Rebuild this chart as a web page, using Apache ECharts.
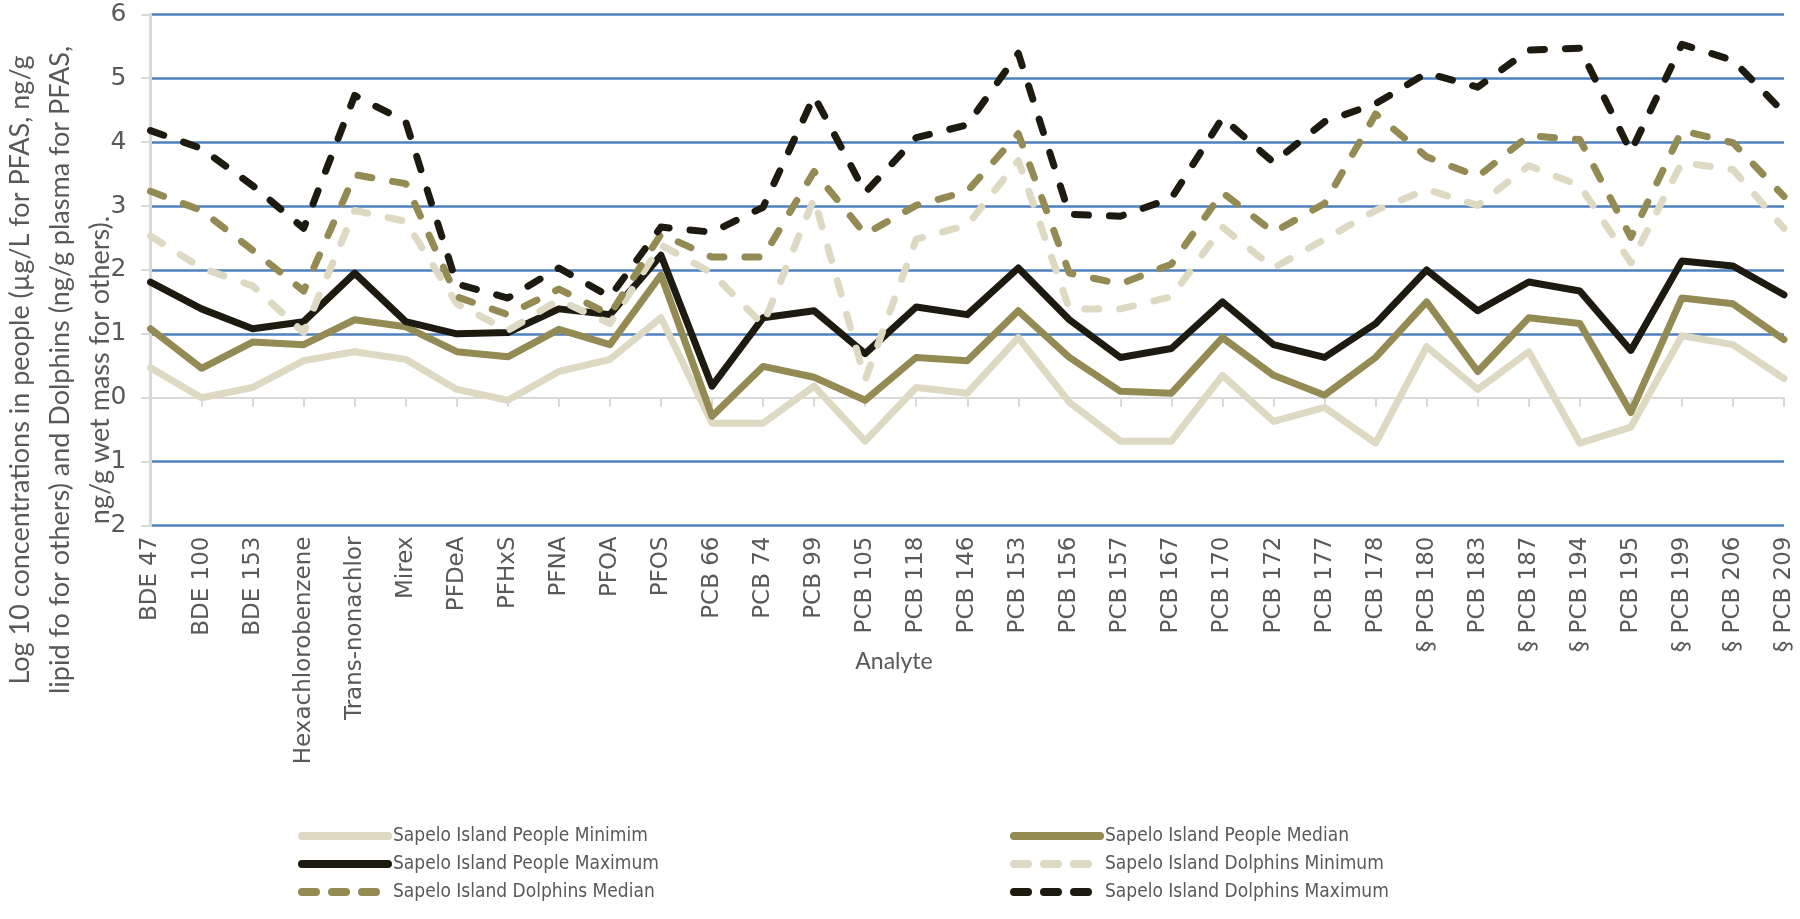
<!DOCTYPE html>
<html><head><meta charset="utf-8">
<script src="https://cdn.jsdelivr.net/npm/echarts@6/dist/echarts.min.js"></script>
<style>html,body{margin:0;padding:0;background:#fff}#c{width:1800px;height:919px}</style>
</head><body><div id="c"></div>
<script>
const categories = ['BDE 47','BDE 100','BDE 153','Hexachlorobenzene','Trans-nonachlor','Mirex','PFDeA','PFHxS','PFNA','PFOA','PFOS','PCB 66','PCB 74','PCB 99','PCB 105','PCB 118','PCB 146','PCB 153','PCB 156','PCB 157','PCB 167','PCB 170','PCB 172','PCB 177','PCB 178','§ PCB 180','PCB 183','§ PCB 187','§ PCB 194','PCB 195','§ PCB 199','§ PCB 206','§ PCB 209'];
const peopleMin = [0.47,0.00,0.16,0.58,0.72,0.60,0.13,-0.04,0.41,0.60,1.25,-0.40,-0.40,0.18,-0.68,0.16,0.07,0.94,-0.07,-0.68,-0.68,0.35,-0.37,-0.15,-0.71,0.80,0.13,0.72,-0.71,-0.46,0.97,0.83,0.30];
const peopleMedian = [1.08,0.46,0.87,0.83,1.22,1.11,0.72,0.64,1.07,0.83,1.92,-0.29,0.49,0.32,-0.04,0.63,0.58,1.36,0.63,0.10,0.07,0.94,0.35,0.04,0.63,1.50,0.41,1.25,1.16,-0.23,1.56,1.47,0.91];
const peopleMax = [1.81,1.39,1.08,1.19,1.95,1.19,1.00,1.02,1.39,1.30,2.23,0.18,1.25,1.36,0.69,1.42,1.30,2.03,1.22,0.63,0.77,1.50,0.83,0.63,1.16,2.00,1.36,1.81,1.67,0.74,2.14,2.06,1.61];
const dolphinMin = [2.53,2.03,1.75,1.02,2.93,2.76,1.47,1.05,1.53,1.16,2.39,1.95,1.14,3.12,0.28,2.48,2.70,3.71,1.39,1.39,1.58,2.67,2.03,2.48,2.93,3.26,3.01,3.63,3.32,2.11,3.68,3.57,2.65];
const dolphinMedian = [3.23,2.93,2.31,1.67,3.49,3.35,1.58,1.30,1.70,1.30,2.56,2.20,2.20,3.54,2.56,3.01,3.23,4.13,1.95,1.78,2.09,3.21,2.59,3.04,4.44,3.77,3.46,4.10,4.04,2.51,4.18,3.99,3.15];
const dolphinMax = [4.18,3.90,3.32,2.65,4.73,4.32,1.78,1.56,2.03,1.58,2.67,2.59,2.98,4.72,3.21,4.07,4.27,5.39,2.87,2.84,3.12,4.38,3.68,4.32,4.60,5.08,4.86,5.44,5.47,3.85,5.53,5.28,4.46];
const yTickValues = [-2,-1,0,1,2,3,4,5,6];
const yTickLabels = ['2','1','0','1','2','3','4','5','6'];
const seriesNames = ['Sapelo Island People Minimim','Sapelo Island People Median','Sapelo Island People Maximum','Sapelo Island Dolphins Minimum','Sapelo Island Dolphins Median','Sapelo Island Dolphins Maximum'];
const yTitle = 'Log 10 concentrations in people (µg/L for PFAS, ng/g\nlipid fo for others) and Dolphins (ng/g plasma for PFAS,\nng/g wet mass for others).';
const xTitle = 'Analyte';

const C_MIN = '#DDD9C3', C_MED = '#948A54', C_MAX = '#1D1B10';
const DASH = [14, 21];
const seriesData = [peopleMin, peopleMedian, peopleMax, dolphinMin, dolphinMedian, dolphinMax];
const seriesColors = [C_MIN, C_MED, C_MAX, C_MIN, C_MED, C_MAX];
const seriesDashed = [false, false, false, true, true, true];

const series = seriesData.map((d, i) => ({
  name: seriesNames[i], type: 'line', data: d, symbol: 'none', xAxisIndex: 0, yAxisIndex: 0,
  color: seriesColors[i],
  lineStyle: { color: seriesColors[i], width: 7, type: seriesDashed[i] ? DASH : 'solid', cap: 'round', join: 'round' },
  emphasis: { disabled: true }
}));

const legendItem = (i) => ({
  name: seriesNames[i],
  itemStyle: { opacity: 0 },
  lineStyle: { width: 8, opacity: 1, type: seriesDashed[i] ? [14, 16] : 'solid', cap: 'round', color: seriesColors[i] }
});

const gridColors = yTickValues.map(v => v === 0 ? 'rgba(0,0,0,0)' : '#4F81BD');
const legendText = { fontSize: 19, color: '#595959', fontFamily: '"Liberation Sans Narrow", "DejaVu Sans Condensed", Lato', lineHeight: 20 };

const chart = echarts.init(document.getElementById('c'));
chart.setOption({
  animation: false,
  backgroundColor: '#fff',
  grid: { left: 150.5, right: 16, top: 14.3, bottom: 393.5, containLabel: false },
  xAxis: [{
    type: 'category', data: categories, boundaryGap: false, position: 'bottom',
    axisLine: { show: false, onZero: false }, axisTick: { show: false },
    axisLabel: { interval: 0, rotate: 90, margin: 11, fontSize: 23, color: '#595959', fontFamily: 'DejaVu Sans' },
    splitLine: { show: false }
  }, {
    type: 'category', data: categories, boundaryGap: false, position: 'top',
    axisLine: { show: true, onZero: true, lineStyle: { color: '#D9D9D9', width: 2 } },
    axisTick: { show: true, inside: true, length: 9, interval: 0, lineStyle: { color: '#D9D9D9', width: 2 } },
    axisLabel: { show: false }, splitLine: { show: false }
  }],
  yAxis: {
    type: 'value', min: -2, max: 6, interval: 1,
    axisLine: { show: true, lineStyle: { color: '#D9D9D9', width: 3 } },
    axisTick: { show: true, length: 9, lineStyle: { color: '#D9D9D9', width: 2 } },
    axisLabel: { margin: 24, fontSize: 25, color: '#595959', fontFamily: 'DejaVu Sans',
      formatter: v => yTickLabels[yTickValues.indexOf(v)] },
    splitLine: { show: true, lineStyle: { color: gridColors, width: 2.5 } }
  },
  legend: [{
    orient: 'vertical', left: 293, top: 821, itemWidth: 86, itemHeight: 20, itemGap: 8,
    textStyle: legendText,
    data: [legendItem(0), legendItem(2), legendItem(4)]
  }, {
    orient: 'vertical', left: 1005, top: 821, itemWidth: 86, itemHeight: 20, itemGap: 8,
    textStyle: legendText,
    data: [legendItem(1), legendItem(3), legendItem(5)]
  }],
  graphic: [{
    type: 'text', x: 60, y: 370, rotation: Math.PI / 2,
    style: { text: yTitle, fill: '#595959', font: '27px Lato', fontSize: 27, fontFamily: 'Lato', lineHeight: 40,
      textAlign: 'center', textVerticalAlign: 'middle', align: 'center', verticalAlign: 'middle' }
  }, {
    type: 'text', x: 894, y: 662,
    style: { text: xTitle, fill: '#595959', font: '23px Lato', fontSize: 23, fontFamily: 'Lato',
      textAlign: 'center', textVerticalAlign: 'middle', align: 'center', verticalAlign: 'middle' }
  }],
  series: series
});
</script></body></html>
